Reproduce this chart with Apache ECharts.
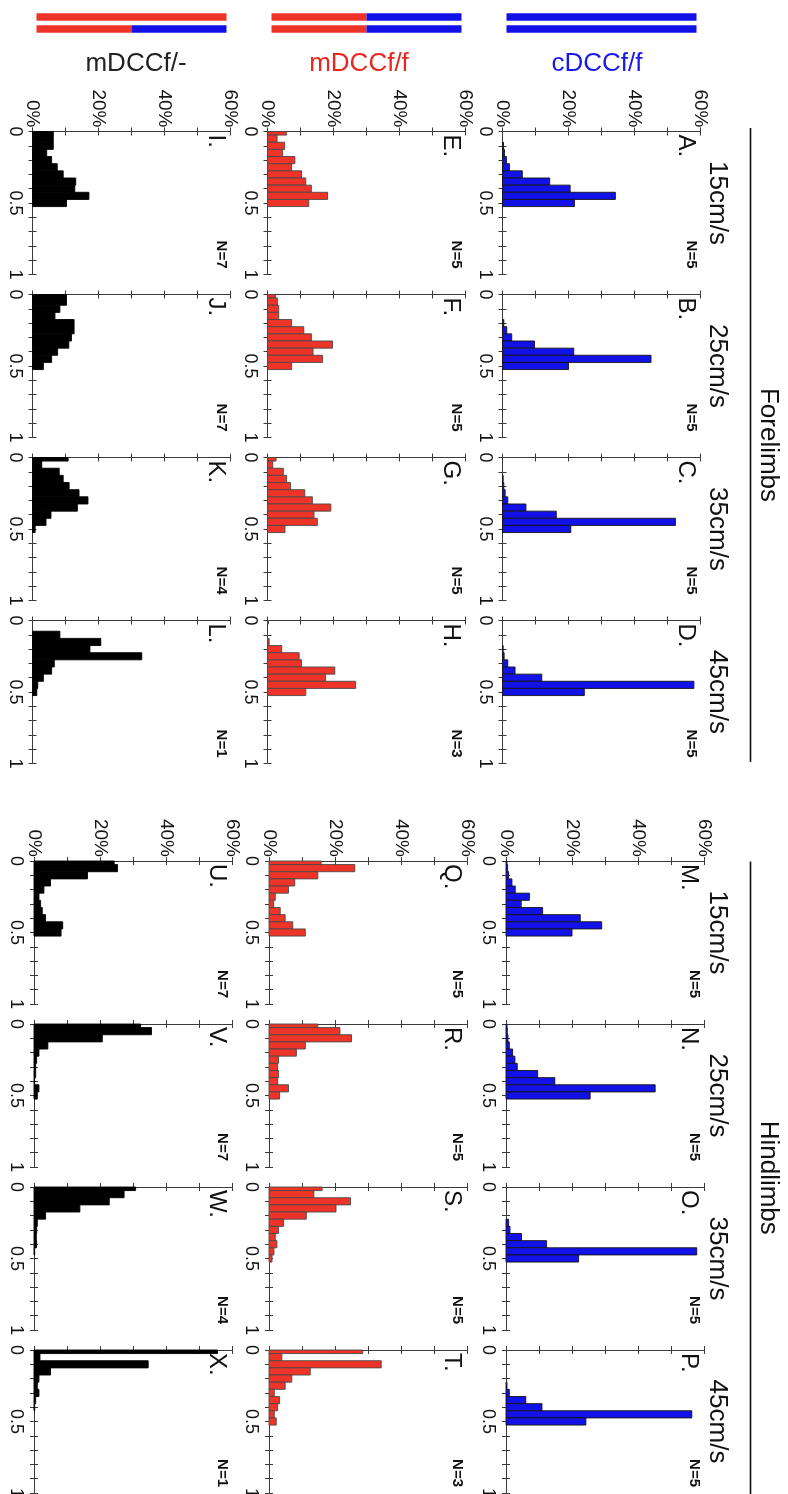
<!DOCTYPE html>
<html>
<head>
<meta charset="utf-8">
<script src="https://cdn.jsdelivr.net/npm/echarts@6/dist/echarts.min.js"></script>
<style>
  html, body { margin: 0; padding: 0; background: #ffffff; }
  #chart { width: 788px; height: 1494px; }
</style>
</head>
<body>
<div id="chart"></div>
<script>
// Duty-factor histograms, bin centres (width 0.05) and axis tick labels
const binCenters = [0, 0.05, 0.10, 0.15, 0.20, 0.25, 0.30, 0.35, 0.40, 0.45, 0.50];
const BIN_WIDTH = 0.05;
const percentTicks = [0, 20, 40, 60];
const phaseTicks = [0, 0.5, 1];
const speeds = ['15cm/s', '25cm/s', '35cm/s', '45cm/s'];
const limbGroups = ['Forelimbs', 'Hindlimbs'];
const genotypes = ['mDCCf/-', 'mDCCf/f', 'cDCCf/f'];
const animalCounts = [[7, 7, 4, 1], [5, 5, 5, 3], [5, 5, 5, 5]];

// Forelimbs (% of steps per bin)
const foreA = [0, 0, 0.3, 0.6, 1.2, 2.1, 6.0, 14.3, 20.5, 34.2, 21.8];
const foreB = [0, 0, 0, 0, 0.4, 1.3, 2.8, 9.7, 21.6, 45.0, 20.0];
const foreC = [0, 0, 0, 0.2, 0.4, 0.8, 1.6, 7.1, 16.3, 52.4, 20.7];
const foreD = [0, 0, 0, 0, 0.2, 0.5, 1.6, 3.8, 11.9, 58.0, 24.8];
const foreE = [5.8, 2.9, 5.2, 4.6, 8.3, 7.3, 10.3, 11.6, 13.3, 18.2, 12.5];
const foreF = [2.4, 3.0, 3.4, 3.4, 7.3, 11.0, 13.3, 19.7, 13.8, 16.7, 7.3];
const foreG = [2.6, 1.6, 4.8, 5.8, 7.0, 11.3, 13.6, 19.2, 14.1, 15.1, 5.3];
const foreH = [0.3, 0, 0, 0.5, 4.3, 9.6, 10.3, 20.4, 17.6, 26.7, 11.6];
const foreI = [6.3, 6.3, 6.3, 4.3, 5.8, 7.5, 9.3, 13.1, 12.8, 17.1, 10.3];
const foreJ = [10.3, 10.3, 8.3, 6.8, 12.6, 12.6, 11.8, 11.0, 7.6, 5.8, 3.3];
const foreK = [10.8, 2.8, 8.1, 9.3, 11.1, 14.1, 16.8, 13.6, 5.6, 4.1, 0.8];
const foreL = [0, 0, 8.3, 20.7, 17.4, 33.1, 6.6, 5.8, 3.3, 1.6, 1.3];

// Hindlimbs (% of steps per bin)
const hindM = [0.3, 0.5, 0.8, 1.8, 2.8, 7.1, 4.6, 11.1, 22.5, 29.0, 20.0];
const hindN = [0.3, 0.4, 0.6, 1.0, 2.0, 2.7, 3.4, 9.6, 14.8, 45.2, 25.5];
const hindO = [0, 0, 0, 0, 0, 0.8, 1.2, 4.7, 12.3, 57.8, 22.0];
const hindP = [0, 0, 0, 0, 0, 0.3, 1.0, 6.0, 10.9, 56.3, 24.2];
const hindQ = [15.8, 26.0, 14.8, 7.8, 5.9, 1.9, 1.4, 3.4, 4.9, 7.2, 11.0];
const hindR = [14.8, 21.5, 25.0, 11.0, 8.3, 2.9, 2.6, 2.9, 2.6, 5.9, 3.2];
const hindS = [16.1, 13.6, 24.7, 20.3, 11.3, 4.4, 2.9, 1.9, 2.4, 1.5, 0.9];
const hindT = [28.4, 3.9, 34.0, 12.5, 6.9, 4.9, 1.6, 3.2, 2.6, 1.6, 2.2];
const hindU = [24.3, 25.3, 16.2, 5.0, 3.0, 1.5, 2.0, 2.5, 3.5, 8.7, 8.2];
const hindV = [32.3, 35.6, 20.7, 4.2, 1.5, 0.8, 0.5, 0.5, 0.2, 1.5, 1.0];
const hindW = [30.8, 27.3, 22.8, 13.9, 3.5, 1.0, 0.8, 0.7, 0.8, 0.2, 0];
const hindX = [55.6, 1.8, 34.6, 5.0, 1.5, 1.0, 1.5, 0.5, 0.2, 0, 0];

const histograms = {
  Forelimbs: [[foreI, foreJ, foreK, foreL], [foreE, foreF, foreG, foreH], [foreA, foreB, foreC, foreD]],
  Hindlimbs: [[hindU, hindV, hindW, hindX], [hindQ, hindR, hindS, hindT], [hindM, hindN, hindO, hindP]]
};
const panelLetters = {
  Forelimbs: [['I.', 'J.', 'K.', 'L.'], ['E.', 'F.', 'G.', 'H.'], ['A.', 'B.', 'C.', 'D.']],
  Hindlimbs: [['U.', 'V.', 'W.', 'X.'], ['Q.', 'R.', 'S.', 'T.'], ['M.', 'N.', 'O.', 'P.']]
};

// ---- layout (the figure is laid out sideways: speed runs down the page) ----
const FONT = '"Liberation Sans", Arial, Helvetica, sans-serif';
const PANEL_W = 198, PANEL_H = 143;
const colLeft = { Forelimbs: [32.5, 267.5, 502.5], Hindlimbs: [34, 269, 506] };
const rowTop = { Forelimbs: [131.5, 294.5, 457.5, 620.5], Hindlimbs: [861, 1024, 1187, 1350] };
const BLUE = '#1212e8', RED = '#ee3328', BLACK = '#000000';
const genotypeStyle = [
  { fill: BLACK, stroke: '#000000', title: '#222222' },
  { fill: RED, stroke: '#4a4a4a', title: '#e8261e' },
  { fill: BLUE, stroke: '#151515', title: '#1a1ae6' }
];
// genotype indicator stripes: [upper stripe, lower stripe], each [left colour, right colour]
const genotypeStripes = [
  [[RED, RED], [RED, BLUE]],
  [[RED, BLUE], [RED, BLUE]],
  [[BLUE, BLUE], [BLUE, BLUE]]
];
const headerCenters = [136, 359, 597];

const grids = [], xAxes = [], yAxes = [], series = [], graphics = [];

function vText(text, x, y, align, size, color, weight) {
  return {
    type: 'text', x: x, y: y, rotation: -Math.PI / 2, silent: true,
    style: {
      text: text, fill: color,
      font: (weight || 'normal') + ' ' + size + 'px ' + FONT,
      align: align, textAlign: align,
      verticalAlign: 'middle', textVerticalAlign: 'middle'
    }
  };
}

const axisLineStyle = { color: '#3a3a3a', width: 1 };

limbGroups.forEach(function (group) {
  genotypes.forEach(function (geno, gi) {
    speeds.forEach(function (speed, si) {
      const left = colLeft[group][gi];
      const top = rowTop[group][si];
      const g = grids.length;
      grids.push({ left: left, top: top, width: PANEL_W, height: PANEL_H, containLabel: false, outerBoundsMode: 'none' });

      // value axis (% of steps) – labelled only on the first speed of each group
      xAxes.push({
        gridIndex: g, type: 'value', min: 0, max: 60, interval: 10, position: 'top',
        axisLine: { show: true, lineStyle: axisLineStyle },
        axisTick: { show: true, inside: true, length: 4, lineStyle: axisLineStyle },
        splitLine: { show: false },
        axisLabel: {
          show: si === 0, rotate: -90, margin: 4, fontSize: 19, fontFamily: FONT, color: '#151515',
          formatter: function (v) {
            const r = Math.round(v);
            return percentTicks.indexOf(r) >= 0 ? r + '%' : '';
          }
        }
      });
      xAxes.push({
        gridIndex: g, type: 'value', min: 0, max: 60, interval: 10, position: 'bottom',
        axisLine: { show: true, lineStyle: axisLineStyle },
        axisTick: { show: true, inside: true, length: 4, lineStyle: axisLineStyle },
        splitLine: { show: false }, axisLabel: { show: false }
      });
      // phase axis (0 → 1 downward)
      yAxes.push({
        gridIndex: g, type: 'value', min: 0, max: 1, interval: 0.1, inverse: true, position: 'left',
        axisLine: { show: true, lineStyle: axisLineStyle },
        axisTick: { show: true, inside: true, length: 4, lineStyle: axisLineStyle },
        splitLine: { show: false },
        axisLabel: {
          show: true, rotate: -90, margin: 9, fontSize: 18, fontFamily: FONT, color: '#151515',
          formatter: function (v) {
            const hit = phaseTicks.filter(function (t) { return Math.abs(t - v) < 1e-6; });
            return hit.length ? String(hit[0]) : '';
          }
        }
      });
      yAxes.push({
        gridIndex: g, type: 'value', min: 0, max: 1, interval: 0.1, inverse: true, position: 'right',
        axisLine: { show: true, lineStyle: axisLineStyle },
        axisTick: { show: true, inside: true, length: 4, lineStyle: axisLineStyle },
        splitLine: { show: false }, axisLabel: { show: false }
      });

      const values = histograms[group][gi][si];
      const st = genotypeStyle[gi];
      series.push({
        type: 'custom', xAxisIndex: 2 * g, yAxisIndex: 2 * g, silent: true,
        data: binCenters.map(function (c, i) { return [values[i], c]; }),
        renderItem: function (params, api) {
          const pct = api.value(0), c = api.value(1);
          if (!pct) return null;
          const lo = Math.max(0, c - BIN_WIDTH / 2), hi = Math.min(1, c + BIN_WIDTH / 2);
          const p0 = api.coord([0, lo]);
          const p1 = api.coord([pct, hi]);
          return {
            type: 'rect',
            shape: { x: p0[0], y: p0[1], width: p1[0] - p0[0], height: p1[1] - p0[1] },
            style: { fill: st.fill, stroke: st.stroke, lineWidth: 0.9 }
          };
        }
      });

      const right = left + PANEL_W, bottom = top + PANEL_H;
      // panel letter and animal count
      graphics.push(vText(panelLetters[group][gi][si], right - 15, top + 3, 'left', 24, '#111111'));
      graphics.push(vText('N=' + animalCounts[gi][si], right - 9.5, bottom - 6, 'right', 15, '#111111', 'bold'));
      // speed label beside the right-hand column
      if (gi === genotypes.length - 1) {
        graphics.push(vText(speed, 717, top + PANEL_H / 2, 'center', 26, '#111111'));
      }
    });
  });
});

// limb group headers with their rules
const groupSpan = { Forelimbs: [128, 762], Hindlimbs: [861.5, 1494] };
limbGroups.forEach(function (group) {
  const span = groupSpan[group];
  graphics.push({ type: 'line', silent: true, shape: { x1: 750.5, y1: span[0], x2: 750.5, y2: span[1] }, style: { stroke: '#111111', lineWidth: 1.6 } });
  graphics.push(vText(group, 768, (span[0] + span[1]) / 2, 'center', 26, '#111111'));
});

// genotype titles and indicator stripes
genotypes.forEach(function (geno, gi) {
  const left = colLeft.Forelimbs[gi];
  graphics.push({
    type: 'text', silent: true, x: headerCenters[gi], y: 64,
    style: { text: geno, fill: genotypeStyle[gi].title, font: '26px ' + FONT, align: 'center', textAlign: 'center', verticalAlign: 'middle', textVerticalAlign: 'middle' }
  });
  const x0 = left + 4, x1 = left + 194, xm = (x0 + x1) / 2;
  genotypeStripes[gi].forEach(function (stripe, k) {
    const y = k === 0 ? 13.3 : 25.3;
    if (stripe[0] === stripe[1]) {
      graphics.push({ type: 'rect', silent: true, shape: { x: x0, y: y, width: x1 - x0, height: 7.4 }, style: { fill: stripe[0] } });
    } else {
      graphics.push({ type: 'rect', silent: true, shape: { x: x0, y: y, width: xm - x0, height: 7.4 }, style: { fill: stripe[0] } });
      graphics.push({ type: 'rect', silent: true, shape: { x: xm, y: y, width: x1 - xm, height: 7.4 }, style: { fill: stripe[1] } });
    }
  });
});

const chart = echarts.init(document.getElementById('chart'), null, { renderer: 'canvas', width: 788, height: 1494 });
chart.setOption({
  backgroundColor: '#ffffff',
  animation: false,
  grid: grids,
  xAxis: xAxes,
  yAxis: yAxes,
  series: series,
  graphic: { elements: graphics }
});
</script>
</body>
</html>
